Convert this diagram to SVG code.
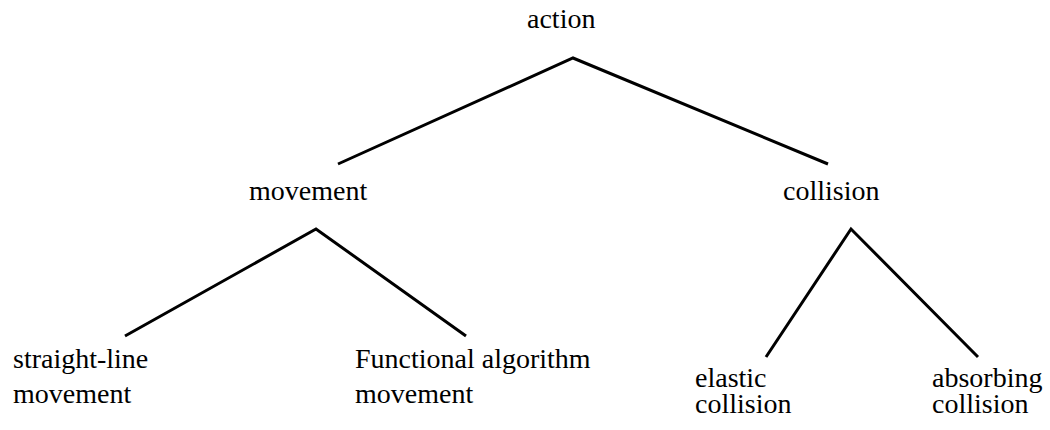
<svg xmlns="http://www.w3.org/2000/svg" width="1050" height="430" viewBox="0 0 1050 430">
  <style>
    text { font-size: 28px; fill: #000; }
    .edge { stroke: #000; stroke-width: 3; fill: none; }
  </style>
  <rect width="1050" height="430" fill="#fff"/>

  <!-- tree branches -->
  <g id="connectors">
    <polyline class="edge" points="338,164 573,58 828,164"/>
    <polyline class="edge" points="125,336 316,229 466,336"/>
    <polyline class="edge" points="766,357 851,229 978,357"/>
  </g>

  <g id="action">
    <text x="527" y="28" font-family="Times New Roman, serif">action</text>
  </g>
  <g id="movement">
    <text x="249" y="200" font-family="Times New Roman, serif">movement</text>
  </g>
  <g id="collision">
    <text x="783" y="200" font-family="Times New Roman, serif">collision</text>
  </g>
  <g id="straight-line">
    <text x="13" y="368" font-family="Times New Roman, serif">straight-line</text>
    <text x="13" y="403" font-family="Times New Roman, serif">movement</text>
  </g>
  <g id="functional">
    <text x="355" y="368" font-family="Times New Roman, serif">Functional algorithm</text>
    <text x="355" y="403" font-family="Times New Roman, serif">movement</text>
  </g>
  <g id="elastic">
    <text x="695" y="387" font-family="Times New Roman, serif">elastic</text>
    <text x="695" y="413" font-family="Times New Roman, serif">collision</text>
  </g>
  <g id="absorbing">
    <text x="932" y="387" font-family="Times New Roman, serif">absorbing</text>
    <text x="932" y="413" font-family="Times New Roman, serif">collision</text>
  </g>
</svg>
